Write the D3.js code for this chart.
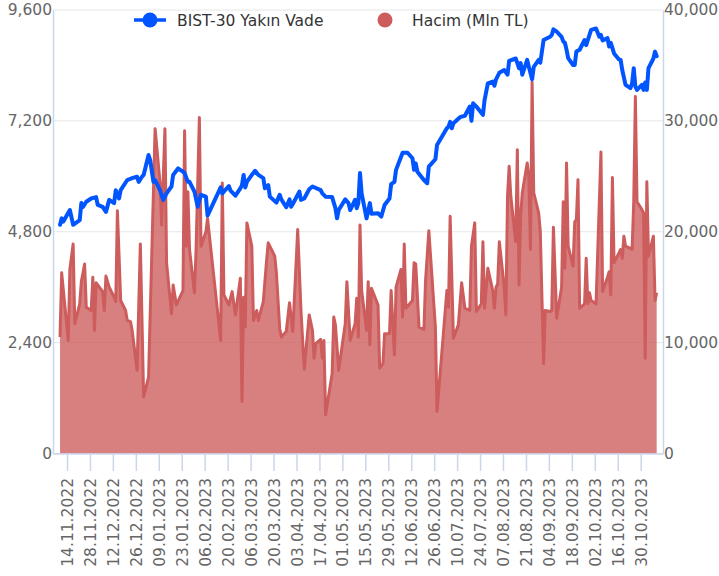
<!DOCTYPE html>
<html>
<head>
<meta charset="utf-8">
<script src="https://cdn.jsdelivr.net/npm/d3@7"></script>
<style>
  body { margin: 0; background: #fff; }
  svg { font-family: "DejaVu Sans", sans-serif; }
</style>
</head>
<body>
<svg id="chart" width="719" height="576"></svg>
<script>
// x axis labels (every other Monday)
const tickLabels = ["14.11.2022","28.11.2022","12.12.2022","26.12.2022","09.01.2023","23.01.2023","06.02.2023","20.02.2023",
  "06.03.2023","20.03.2023","03.04.2023","17.04.2023","01.05.2023","15.05.2023","29.05.2023","12.06.2023","26.06.2023",
  "10.07.2023","24.07.2023","07.08.2023","21.08.2023","04.09.2023","18.09.2023","02.10.2023","16.10.2023","30.10.2023"];
const leftTicks = [0, 2400, 4800, 7200, 9600];
const rightTicks = [0, 10000, 20000, 30000, 40000];
const seriesNames = ["BIST-30 Yakın Vade", "Hacim (Mln TL)"];

// BIST-30 near term futures (left axis)
const indexDates = ["2022-11-09","2022-11-10","2022-11-11","2022-11-15","2022-11-17","2022-11-21","2022-11-22","2022-11-23","2022-11-25",
  "2022-11-28","2022-12-01","2022-12-02","2022-12-05","2022-12-07","2022-12-09","2022-12-12","2022-12-13","2022-12-15","2022-12-16",
  "2022-12-20","2022-12-23","2022-12-26","2022-12-27","2022-12-29","2022-12-30","2023-01-02","2023-01-03","2023-01-05","2023-01-06",
  "2023-01-09","2023-01-11","2023-01-13","2023-01-16","2023-01-17","2023-01-20","2023-01-23","2023-01-24","2023-01-26","2023-01-27",
  "2023-01-30","2023-02-01","2023-02-03","2023-02-06","2023-02-07","2023-02-15","2023-02-16","2023-02-20","2023-02-21","2023-02-24",
  "2023-02-27","2023-02-28","2023-03-01","2023-03-02","2023-03-03","2023-03-06","2023-03-08","2023-03-10","2023-03-13","2023-03-14",
  "2023-03-16","2023-03-17","2023-03-21","2023-03-23","2023-03-24","2023-03-27","2023-03-29","2023-03-30","2023-03-31","2023-04-04",
  "2023-04-05","2023-04-07","2023-04-10","2023-04-12","2023-04-17","2023-04-18","2023-04-20","2023-04-24","2023-04-26","2023-04-27",
  "2023-04-28","2023-05-02","2023-05-04","2023-05-05","2023-05-08","2023-05-09","2023-05-10","2023-05-11","2023-05-12","2023-05-15",
  "2023-05-17","2023-05-18","2023-05-22","2023-05-24","2023-05-26","2023-05-29","2023-05-30","2023-06-01","2023-06-02","2023-06-06",
  "2023-06-09","2023-06-12","2023-06-13","2023-06-14","2023-06-15","2023-06-19","2023-06-21","2023-06-22","2023-06-26","2023-06-27",
  "2023-07-03","2023-07-04","2023-07-05","2023-07-06","2023-07-07","2023-07-11","2023-07-14","2023-07-17","2023-07-18","2023-07-19",
  "2023-07-21","2023-07-25","2023-07-26","2023-07-28","2023-07-31","2023-08-01","2023-08-02","2023-08-04","2023-08-07","2023-08-09",
  "2023-08-10","2023-08-14","2023-08-15","2023-08-16","2023-08-17","2023-08-18","2023-08-21","2023-08-22","2023-08-24","2023-08-25",
  "2023-08-28","2023-08-29","2023-08-31","2023-09-04","2023-09-05","2023-09-06","2023-09-08","2023-09-11","2023-09-12","2023-09-13",
  "2023-09-14","2023-09-15","2023-09-18","2023-09-19","2023-09-20","2023-09-22","2023-09-25","2023-09-26","2023-09-28","2023-09-29",
  "2023-10-02","2023-10-04","2023-10-05","2023-10-06","2023-10-09","2023-10-10","2023-10-11","2023-10-13","2023-10-16","2023-10-17",
  "2023-10-18","2023-10-20","2023-10-23","2023-10-24","2023-10-25","2023-10-26","2023-10-27","2023-10-30","2023-10-31","2023-11-01",
  "2023-11-02","2023-11-03","2023-11-06","2023-11-07","2023-11-08"];
const indexValues = [4950,5090,5020,5270,4950,5050,5420,5340,5450,
  5520,5550,5380,5340,5230,5490,5420,5700,5520,5700,
  5920,5960,5990,5880,5990,6030,6460,6350,5880,5920,
  5700,5490,5630,5780,6030,6170,6100,6070,5880,5880,
  5670,5340,5600,5560,5150,5760,5630,5790,5690,5580,
  5740,5810,6030,5760,5880,6030,6120,6030,5960,5740,
  5810,5560,5430,5600,5500,5330,5500,5340,5400,5670,
  5490,5520,5720,5780,5700,5630,5560,5550,5310,5090,
  5270,5500,5420,5270,5490,5310,5420,6070,5630,5090,
  5420,5190,5200,5130,5380,5520,5830,5880,6140,6510,
  6510,6390,6140,6280,6100,5920,5850,6210,6370,6680,
  7040,7075,7180,7040,7150,7280,7310,7510,7200,7580,
  7510,7330,7650,8010,8050,7960,8100,8240,8300,8200,
  8500,8550,8450,8340,8450,8200,8520,8370,8100,8370,
  8520,8460,8950,9020,9060,9180,9130,9020,8920,8890,
  8740,8560,8410,8410,8700,8740,8950,8840,9060,9170,
  9200,9020,9060,8940,8990,8810,8890,8660,8530,8520,
  8300,7980,7910,8010,8340,7940,7870,7980,7870,8030,
  7870,8340,8550,8700,8600];

// Volume, million TL (right axis)
const volumeDates = ["2022-11-09","2022-11-10","2022-11-14","2022-11-15","2022-11-17","2022-11-18","2022-11-21","2022-11-22","2022-11-24",
  "2022-11-25","2022-11-28","2022-11-29","2022-11-30","2022-12-01","2022-12-05","2022-12-06","2022-12-07","2022-12-09","2022-12-12",
  "2022-12-13","2022-12-14","2022-12-16","2022-12-19","2022-12-20","2022-12-22","2022-12-23","2022-12-26","2022-12-28","2022-12-30",
  "2023-01-02","2023-01-06","2023-01-09","2023-01-10","2023-01-12","2023-01-13","2023-01-16","2023-01-17","2023-01-19","2023-01-23",
  "2023-01-24","2023-01-25","2023-01-26","2023-01-27","2023-01-30","2023-01-31","2023-02-02","2023-02-03","2023-02-06","2023-02-07",
  "2023-02-15","2023-02-16","2023-02-17","2023-02-20","2023-02-22","2023-02-24","2023-02-27","2023-02-28","2023-03-01","2023-03-02",
  "2023-03-03","2023-03-06","2023-03-07","2023-03-09","2023-03-10","2023-03-13","2023-03-15","2023-03-16","2023-03-20","2023-03-21",
  "2023-03-23","2023-03-24","2023-03-27","2023-03-29","2023-03-31","2023-04-03","2023-04-05","2023-04-07","2023-04-10","2023-04-12",
  "2023-04-13","2023-04-14","2023-04-17","2023-04-18","2023-04-19","2023-04-20","2023-04-24","2023-04-25","2023-04-26","2023-04-28",
  "2023-05-02","2023-05-03","2023-05-05","2023-05-08","2023-05-09","2023-05-10","2023-05-11","2023-05-12","2023-05-15","2023-05-16",
  "2023-05-17","2023-05-18","2023-05-22","2023-05-23","2023-05-25","2023-05-26","2023-05-29","2023-05-30","2023-06-01","2023-06-02",
  "2023-06-05","2023-06-06","2023-06-07","2023-06-08","2023-06-12","2023-06-13","2023-06-14","2023-06-16","2023-06-19","2023-06-20",
  "2023-06-22","2023-06-26","2023-06-27","2023-07-03","2023-07-04","2023-07-05","2023-07-07","2023-07-10","2023-07-12","2023-07-14",
  "2023-07-17","2023-07-18","2023-07-20","2023-07-21","2023-07-24","2023-07-25","2023-07-26","2023-07-28","2023-07-31","2023-08-01",
  "2023-08-02","2023-08-03","2023-08-04","2023-08-07","2023-08-08","2023-08-09","2023-08-10","2023-08-11","2023-08-14","2023-08-15",
  "2023-08-16","2023-08-17","2023-08-18","2023-08-21","2023-08-22","2023-08-23","2023-08-24","2023-08-25","2023-08-28","2023-08-29",
  "2023-08-31","2023-09-01","2023-09-04","2023-09-05","2023-09-06","2023-09-08","2023-09-11","2023-09-12","2023-09-13","2023-09-14",
  "2023-09-15","2023-09-18","2023-09-19","2023-09-20","2023-09-21","2023-09-22","2023-09-25","2023-09-26","2023-09-27","2023-09-28",
  "2023-09-29","2023-10-02","2023-10-05","2023-10-06","2023-10-09","2023-10-10","2023-10-11","2023-10-12","2023-10-13","2023-10-16",
  "2023-10-17","2023-10-18","2023-10-19","2023-10-20","2023-10-23","2023-10-24","2023-10-25","2023-10-26","2023-10-27","2023-10-30",
  "2023-10-31","2023-11-01","2023-11-02","2023-11-03","2023-11-06","2023-11-07","2023-11-08"];
const volumeValues = [10500,16300,10200,16600,18900,11700,13500,15500,17100,
  13200,12900,15900,11100,15400,14600,12900,16000,15000,14100,
  13700,21900,13800,12900,12000,11900,11100,7500,18900,5100,
  6900,29300,24400,20600,29300,17200,12600,15200,13400,14700,
  29100,18700,23600,18400,14500,18400,30300,18700,20000,21200,
  10200,24400,14300,13400,14600,12500,15800,4700,14100,11400,
  20800,18700,12000,12900,12000,13700,17400,19000,17800,16300,
  11300,10500,11000,13600,11000,20200,12900,7600,12500,11100,
  8600,9900,10300,8600,10200,3500,7200,12300,11600,7500,
  11700,15500,10200,11700,14000,10500,20600,14700,11100,15500,
  9800,14900,13400,7700,8100,10800,10800,14700,8900,15000,
  16600,12300,18900,13100,13800,17200,17100,11400,11200,15600,
  20100,11400,3800,14700,13200,21400,10400,11600,15400,13100,
  12900,18700,20800,12800,13500,19100,13100,16700,14700,13100,
  15000,15300,19100,15000,12500,23200,25900,23200,19100,27400,
  15200,21400,23500,26200,25000,18400,33500,23500,21700,20000,
  8100,12900,12800,12900,20400,12200,15000,22700,16700,26200,
  18700,16900,20900,21100,24700,13100,13500,17600,13500,14500,
  13800,13500,27200,14600,15900,16400,14300,24900,17200,18100,
  18400,17600,19600,18700,18500,18400,22700,32200,22700,22000,
  21700,8600,24500,17800,19600,13800,14500];

const blue = "#0055ff";
const red = "#cd5c5c";
const axisColor = "#ccd6eb";
const gridColor = "#e6e6e6";
const labelColor = "#666666";
const fontSize = "15.5px";

const svg = d3.select("#chart");
const parseDay = d3.timeParse("%Y-%m-%d");
const parseTick = d3.timeParse("%d.%m.%Y");
const fmtTick = d3.timeFormat("%d.%m.%Y");
const fmtNum = d3.format(",");

// daily closes are stamped late in the day
const stamp = s => d3.timeHour.offset(parseDay(s), 18);
const indexData = indexDates.map((d, i) => ({ date: stamp(d), v: indexValues[i] }));
const volumeData = volumeDates.map((d, i) => ({ date: stamp(d), v: volumeValues[i] }));

const plotLeft = 53, plotRight = 663, plotTop = 10, plotBottom = 453.5;

var x = d3.scaleTime()
  .domain([parseTick(tickLabels[0]), parseTick(tickLabels[tickLabels.length - 1])])
  .range([67, 640.7]);
var yL = d3.scaleLinear().domain([0, 9600]).range([plotBottom, plotTop]);
var yR = d3.scaleLinear().domain([0, 40000]).range([plotBottom, plotTop]);

// grid
svg.append("g").selectAll("line")
  .data(leftTicks)
  .enter().append("line")
    .attr("x1", plotLeft).attr("x2", plotRight)
    .attr("y1", d => yL(d)).attr("y2", d => yL(d))
    .attr("stroke", gridColor).attr("stroke-width", 1);

// volume area
svg.append("path")
  .datum(volumeData)
  .attr("fill", red)
  .attr("fill-opacity", 0.78)
  .attr("d", d3.area().x(d => x(d.date)).y0(yR(0)).y1(d => yR(d.v)));

svg.append("path")
  .datum(volumeData)
  .attr("fill", "none")
  .attr("stroke", red)
  .attr("stroke-width", 3)
  .attr("stroke-linejoin", "round")
  .attr("d", d3.line().x(d => x(d.date)).y(d => yR(d.v)));

// index line
svg.append("path")
  .datum(indexData)
  .attr("fill", "none")
  .attr("stroke", blue)
  .attr("stroke-width", 4)
  .attr("stroke-linejoin", "round")
  .attr("stroke-linecap", "round")
  .attr("d", d3.line().x(d => x(d.date)).y(d => yL(d.v)));

// axes
var left = svg.append("g")
  .attr("transform", "translate(" + plotLeft + ",0)")
  .call(d3.axisLeft(yL).tickValues(leftTicks).tickSize(0).tickPadding(1).tickFormat(fmtNum));
var right = svg.append("g")
  .attr("transform", "translate(" + plotRight + ",0)")
  .call(d3.axisRight(yR).tickValues(rightTicks).tickSize(0).tickPadding(1).tickFormat(fmtNum));
[left, right].forEach(g => {
  g.select(".domain").attr("stroke", axisColor).attr("stroke-width", 1.5);
  g.selectAll("text").attr("fill", labelColor).style("font-size", fontSize).attr("font-family", "DejaVu Sans");
});

var bottom = svg.append("g")
  .attr("transform", "translate(0," + (plotBottom + 0.5) + ")")
  .call(d3.axisBottom(x).tickValues(tickLabels.map(parseTick)).tickSize(17).tickFormat(fmtTick));
bottom.select(".domain").remove();
bottom.selectAll(".tick line").attr("stroke", axisColor).attr("stroke-width", 1.5);
bottom.selectAll("text")
  .attr("transform", "rotate(-90)")
  .attr("text-anchor", "end")
  .attr("x", -24)
  .attr("y", 0)
  .attr("dy", "0.36em")
  .attr("fill", labelColor)
  .attr("font-family", "DejaVu Sans")
  .style("font-size", fontSize);
svg.append("line")
  .attr("x1", plotLeft).attr("x2", plotRight)
  .attr("y1", plotBottom + 0.5).attr("y2", plotBottom + 0.5)
  .attr("stroke", axisColor).attr("stroke-width", 1.5);

// legend
var legend = svg.append("g");
legend.append("line")
  .attr("x1", 134).attr("x2", 166).attr("y1", 20).attr("y2", 20)
  .attr("stroke", blue).attr("stroke-width", 3.5);
legend.append("circle").attr("cx", 150).attr("cy", 20).attr("r", 7.5).attr("fill", blue);
legend.append("text").attr("x", 177).attr("y", 20).attr("dy", "0.36em")
  .attr("fill", "#333").style("font-size", fontSize).text(seriesNames[0]);
legend.append("circle").attr("cx", 385).attr("cy", 20).attr("r", 7.5).attr("fill", red);
legend.append("text").attr("x", 412).attr("y", 20).attr("dy", "0.36em")
  .attr("fill", "#333").style("font-size", fontSize).text(seriesNames[1]);
</script>
</body>
</html>
